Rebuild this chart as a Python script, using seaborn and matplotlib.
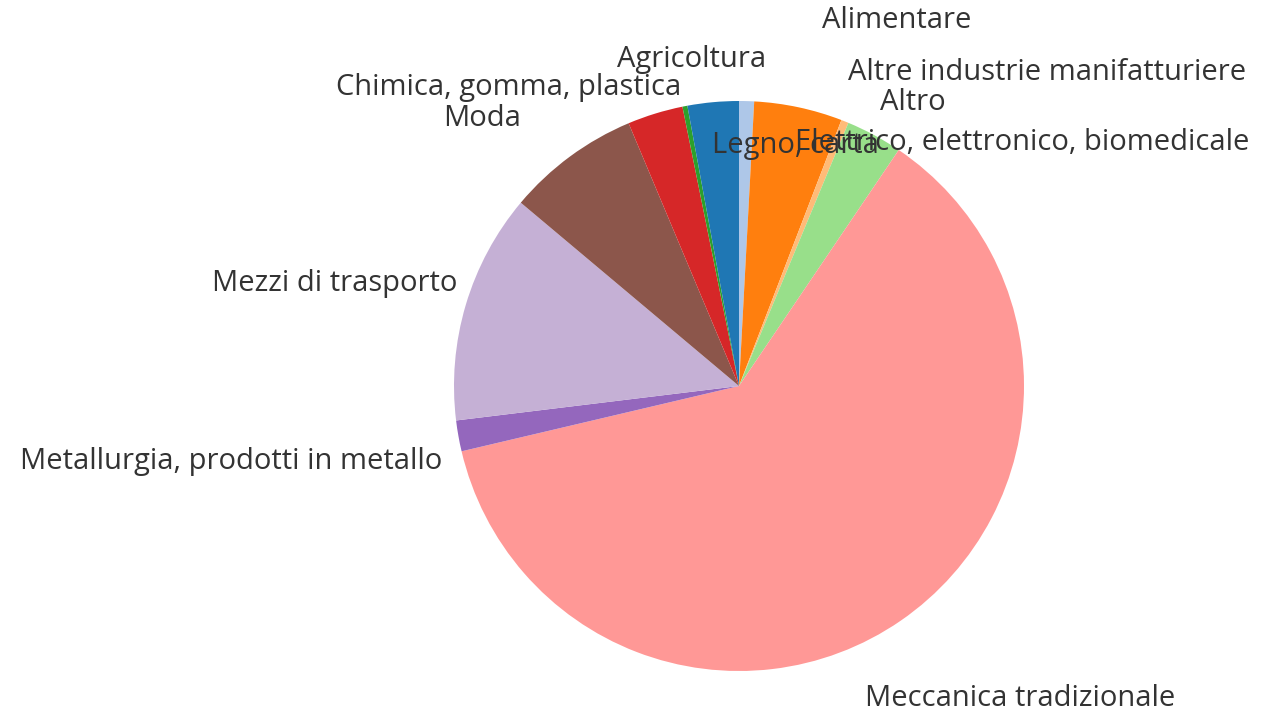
import matplotlib
matplotlib.use("Agg")
import matplotlib.pyplot as plt
import seaborn as sns

sns.set_theme(style="white")
plt.rcParams['font.family'] = ['Open Sans', 'DejaVu Sans']

# Slices in clockwise order starting at 12 o'clock
categories = ["Alimentare", "Altre industrie manifatturiere", "Altro",
              "Elettrico, elettronico, biomedicale", "Meccanica tradizionale",
              "Metallurgia, prodotti in metallo", "Mezzi di trasporto", "Moda",
              "Legno, carta", "Chimica, gomma, plastica", "Agricoltura"]
values = [0.85, 5.0, 0.42, 3.2, 61.85, 1.75, 13.05, 7.55, 3.15, 0.28, 2.9]
colors = ["#aec7e8", "#ff7f0e", "#ffbb78", "#98df8a", "#ff9896",
          "#9467bd", "#c5b0d5", "#8c564b", "#d62728", "#2ca02c", "#1f77b4"]

# label anchor (left x, center y) in figure pixels
label_pos = {
    "Alimentare": (822, 20),
    "Altre industrie manifatturiere": (848, 72),
    "Altro": (880, 103),
    "Elettrico, elettronico, biomedicale": (795, 143),
    "Meccanica tradizionale": (865, 698),
    "Metallurgia, prodotti in metallo": (20, 462),
    "Mezzi di trasporto": (212, 284),
    "Moda": (443, 118),
    "Legno, carta": (712, 145),
    "Chimica, gomma, plastica": (336, 88),
    "Agricoltura": (617, 60),
}

W, H = 1276, 715
fig = plt.figure(figsize=(W / 100, H / 100), dpi=100)
cx, cy, r = 739, 386, 285
ax = fig.add_axes([(cx - r) / W, (H - cy - r) / H, 2 * r / W, 2 * r / H])
ax.pie(values, colors=colors, startangle=90, counterclock=False,
       wedgeprops=dict(linewidth=0))
ax.set_xlim(-1, 1)
ax.set_ylim(-1, 1)
ax.set_aspect("equal")
ax.axis("off")

for cat in categories:
    x, y = label_pos[cat]
    fig.text(x / W, 1 - y / H, cat, ha="left", va="center",
             fontsize=21, color="#333333")

fig.savefig("out.png", dpi=100)
